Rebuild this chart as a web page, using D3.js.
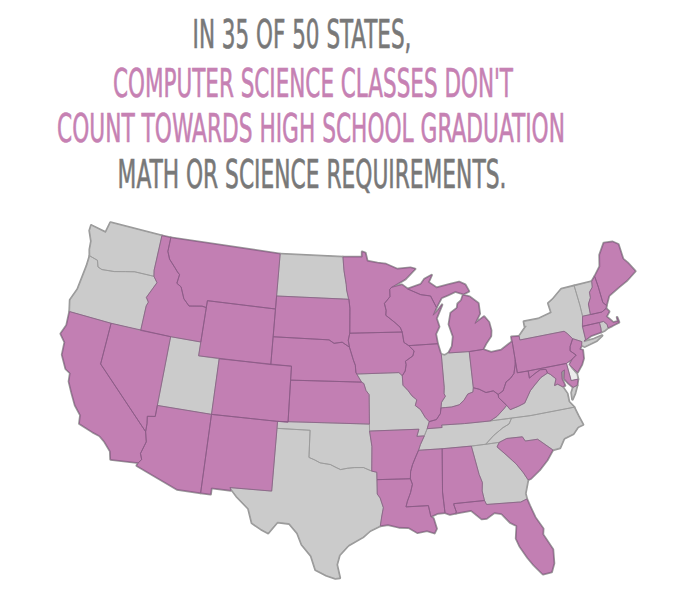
<!DOCTYPE html>
<html>
<head>
<meta charset="utf-8">
<script src="https://cdn.jsdelivr.net/npm/d3@7"></script>
<style>
    body { margin: 0; background: #fff; }
    svg { display: block; }
</style>
</head>
<body>
<svg id="chart" width="697" height="616"></svg>
<script>
// title lines and the colour each one is set in
let titleLines = [
    "IN 35 OF 50 STATES,",
    "COMPUTER SCIENCE CLASSES DON'T",
    "COUNT TOWARDS HIGH SCHOOL GRADUATION",
    "MATH OR SCIENCE REQUIREMENTS.",
];
let titleKinds = ["plain", "accent", "accent", "plain"];

// states where CS does not count (pink); DE drawn lighter
let dontCount = ["CA", "NV", "ID", "MT", "WY", "CO", "AZ", "NM", "SD", "NE", "KS", "MN", "IA", "AR", "LA",
    "WI", "IL", "MI", "OH", "KY", "MS", "AL", "FL", "SC", "WV", "PA", "MD", "NJ", "CT", "MA", "NH", "ME"];
let lightStates = ["DE"];

// rough state outlines, [lon, lat]
const WA = [[[-124.7, 48.4], [-123.0, 48.2], [-122.8, 49.0], [-117.04, 49.0], [-117.04, 46.42], [-116.92, 46.0], [-118.98, 46.0], [-119.9, 45.85], [-121.0, 45.65], [-122.3, 45.55], [-122.76, 45.65], [-123.0, 46.1], [-123.9, 46.25], [-124.1, 46.7], [-124.2, 47.3], [-124.7, 48.0]]];
const OR = [[[-123.9, 46.25], [-123.0, 46.1], [-122.76, 45.65], [-122.3, 45.55], [-121.0, 45.65], [-119.9, 45.85], [-118.98, 46.0], [-116.92, 46.0], [-116.47, 45.6], [-116.78, 45.1], [-117.2, 44.4], [-116.9, 44.1], [-117.03, 43.8], [-117.03, 42.0], [-120.0, 42.0], [-124.21, 42.0], [-124.5, 42.8], [-124.1, 43.7], [-123.9, 45.5]]];
const ID = [[[-117.04, 49.0], [-116.05, 49.0], [-116.05, 47.98], [-115.7, 47.45], [-115.0, 46.95], [-114.6, 46.65], [-114.35, 46.5], [-114.45, 45.85], [-113.95, 45.65], [-113.45, 44.85], [-112.8, 44.4], [-111.5, 44.55], [-111.05, 44.5], [-111.05, 42.0], [-114.04, 42.0], [-117.03, 42.0], [-117.03, 43.8], [-116.9, 44.1], [-117.2, 44.4], [-116.78, 45.1], [-116.47, 45.6], [-116.92, 46.0], [-117.04, 46.42]]];
const MT = [[[-116.05, 49.0], [-104.05, 49.0], [-104.05, 45.0], [-111.05, 45.0], [-111.05, 44.5], [-111.5, 44.55], [-112.8, 44.4], [-113.45, 44.85], [-113.95, 45.65], [-114.45, 45.85], [-114.35, 46.5], [-114.6, 46.65], [-115.0, 46.95], [-115.7, 47.45], [-116.05, 47.98]]];
const WY = [[[-111.05, 45.0], [-104.05, 45.0], [-104.05, 43.0], [-104.05, 41.0], [-111.05, 41.0], [-111.05, 42.0], [-111.05, 44.5]]];
const ND = [[[-104.05, 49.0], [-97.23, 49.0], [-97.1, 48.0], [-96.85, 47.0], [-96.8, 46.6], [-96.6, 46.0], [-96.56, 45.94], [-104.05, 45.94]]];
const SD = [[[-104.05, 45.94], [-96.56, 45.94], [-96.45, 45.3], [-96.45, 43.5], [-96.6, 43.0], [-96.48, 42.5], [-97.2, 42.85], [-98.0, 42.76], [-98.5, 43.0], [-104.05, 43.0], [-104.05, 45.0]]];
const NE = [[[-104.05, 43.0], [-98.5, 43.0], [-98.0, 42.76], [-97.2, 42.85], [-96.48, 42.5], [-96.35, 42.2], [-96.1, 41.6], [-95.9, 41.2], [-95.85, 40.7], [-95.77, 40.58], [-95.31, 40.0], [-102.05, 40.0], [-102.05, 41.0], [-104.05, 41.0]]];
const KS = [[[-102.05, 40.0], [-95.31, 40.0], [-95.1, 39.9], [-94.9, 39.4], [-94.61, 39.1], [-94.62, 37.0], [-103.0, 37.0], [-102.04, 37.0]]];
const OK = [[[-103.0, 37.0], [-94.62, 37.0], [-94.62, 36.5], [-94.43, 35.4], [-94.48, 33.64], [-95.2, 33.9], [-96.0, 33.9], [-96.6, 33.85], [-97.2, 33.75], [-97.6, 33.9], [-98.1, 34.1], [-99.0, 34.2], [-99.5, 34.4], [-100.0, 34.56], [-100.0, 36.5], [-103.0, 36.5]]];
const TX = [[[-103.0, 36.5], [-100.0, 36.5], [-100.0, 34.56], [-99.5, 34.4], [-99.0, 34.2], [-98.1, 34.1], [-97.6, 33.9], [-97.2, 33.75], [-96.6, 33.85], [-96.0, 33.9], [-95.2, 33.9], [-94.48, 33.64], [-94.04, 33.55], [-94.04, 33.02], [-94.04, 31.99], [-93.8, 31.7], [-93.55, 31.0], [-93.7, 30.4], [-93.84, 29.7], [-94.7, 29.35], [-95.3, 28.9], [-96.5, 28.3], [-97.2, 27.6], [-97.4, 26.9], [-97.15, 25.95], [-97.5, 25.9], [-98.2, 26.1], [-99.1, 26.5], [-99.5, 27.5], [-100.3, 28.3], [-100.7, 29.1], [-101.4, 29.75], [-102.4, 29.8], [-103.1, 28.97], [-103.7, 29.2], [-104.5, 29.6], [-104.9, 30.6], [-106.0, 31.4], [-106.63, 31.97], [-103.06, 32.0]]];
const CA = [[[-124.21, 42.0], [-120.0, 42.0], [-120.0, 39.0], [-114.63, 35.0], [-114.6, 34.9], [-114.4, 34.3], [-114.5, 34.0], [-114.7, 33.4], [-114.5, 33.0], [-114.72, 32.72], [-117.12, 32.53], [-117.3, 33.1], [-118.0, 33.7], [-118.5, 34.0], [-119.2, 34.15], [-120.5, 34.5], [-120.6, 35.1], [-121.3, 35.7], [-121.9, 36.5], [-122.4, 37.2], [-122.5, 37.8], [-123.0, 38.0], [-123.7, 38.9], [-123.8, 39.8], [-124.4, 40.3], [-124.1, 41.0]]];
const NV = [[[-120.0, 42.0], [-114.04, 42.0], [-114.05, 37.0], [-114.05, 36.2], [-114.75, 36.1], [-114.65, 35.6], [-114.63, 35.0], [-120.0, 39.0]]];
const UT = [[[-114.04, 42.0], [-111.05, 42.0], [-111.05, 41.0], [-109.05, 41.0], [-109.05, 37.0], [-114.05, 37.0]]];
const AZ = [[[-114.05, 37.0], [-109.05, 37.0], [-109.05, 31.33], [-111.07, 31.33], [-114.81, 32.49], [-114.72, 32.72], [-114.5, 33.0], [-114.7, 33.4], [-114.5, 34.0], [-114.4, 34.3], [-114.6, 34.9], [-114.63, 35.0], [-114.65, 35.6], [-114.75, 36.1], [-114.05, 36.2]]];
const CO = [[[-109.05, 41.0], [-102.05, 41.0], [-102.05, 40.0], [-102.04, 37.0], [-103.0, 37.0], [-109.05, 37.0]]];
const NM = [[[-109.05, 37.0], [-103.0, 37.0], [-103.0, 36.5], [-103.06, 32.0], [-106.63, 31.97], [-106.53, 31.78], [-108.2, 31.78], [-108.2, 31.33], [-109.05, 31.33]]];
const MN = [[[-97.23, 49.0], [-95.15, 49.0], [-95.15, 49.38], [-94.8, 49.3], [-94.6, 48.7], [-93.5, 48.55], [-92.6, 48.45], [-91.4, 48.05], [-90.0, 48.1], [-89.5, 47.99], [-90.6, 47.3], [-92.1, 46.75], [-92.3, 46.6], [-92.3, 46.08], [-92.9, 45.6], [-92.75, 45.1], [-92.8, 44.75], [-92.3, 44.45], [-91.9, 44.2], [-91.4, 43.85], [-91.22, 43.5], [-96.45, 43.5], [-96.45, 45.3], [-96.56, 45.94], [-96.6, 46.0], [-96.8, 46.6], [-96.85, 47.0], [-97.1, 48.0]]];
const IA = [[[-96.45, 43.5], [-91.22, 43.5], [-91.1, 42.75], [-90.64, 42.5], [-90.15, 42.1], [-90.3, 41.75], [-91.05, 41.4], [-91.0, 41.15], [-91.12, 40.7], [-91.42, 40.38], [-91.73, 40.61], [-95.77, 40.58], [-95.85, 40.7], [-95.9, 41.2], [-96.1, 41.6], [-96.35, 42.2], [-96.48, 42.5], [-96.6, 43.0]]];
const MO = [[[-95.77, 40.58], [-91.73, 40.61], [-91.42, 40.38], [-91.4, 39.7], [-90.95, 39.3], [-90.6, 38.9], [-90.18, 38.6], [-90.35, 38.2], [-89.9, 37.9], [-89.5, 37.3], [-89.17, 36.99], [-89.4, 36.5], [-89.7, 36.0], [-90.37, 36.0], [-90.15, 36.5], [-94.62, 36.5], [-94.62, 37.0], [-94.61, 39.1], [-94.9, 39.4], [-95.1, 39.9], [-95.31, 40.0]]];
const AR = [[[-94.62, 36.5], [-90.15, 36.5], [-90.37, 36.0], [-89.7, 36.0], [-90.1, 35.4], [-90.3, 35.0], [-90.55, 34.6], [-90.9, 34.0], [-91.1, 33.5], [-91.15, 33.0], [-94.04, 33.02], [-94.04, 33.55], [-94.48, 33.64], [-94.43, 35.4]]];
const LA = [[[-94.04, 33.02], [-91.15, 33.0], [-91.0, 32.6], [-91.2, 32.0], [-91.5, 31.4], [-91.64, 31.0], [-89.75, 31.0], [-89.6, 30.2], [-89.4, 30.05], [-89.2, 29.3], [-89.4, 29.0], [-90.0, 29.2], [-90.8, 29.1], [-91.5, 29.5], [-92.3, 29.55], [-93.2, 29.77], [-93.84, 29.7], [-93.7, 30.4], [-93.55, 31.0], [-93.8, 31.7], [-94.04, 31.99]]];
const WI = [[[-92.1, 46.75], [-91.0, 46.9], [-90.42, 46.57], [-89.1, 46.1], [-88.1, 45.95], [-87.6, 45.1], [-88.0, 44.55], [-87.5, 44.85], [-87.0, 45.25], [-87.7, 44.3], [-87.5, 43.7], [-87.9, 43.2], [-87.8, 42.49], [-90.64, 42.5], [-91.1, 42.75], [-91.22, 43.5], [-91.4, 43.85], [-91.9, 44.2], [-92.3, 44.45], [-92.8, 44.75], [-92.75, 45.1], [-92.9, 45.6], [-92.3, 46.08], [-92.3, 46.6]]];
const IL = [[[-90.64, 42.5], [-87.8, 42.49], [-87.6, 41.8], [-87.53, 41.7], [-87.53, 39.35], [-87.6, 38.9], [-87.5, 38.7], [-87.9, 38.3], [-88.0, 37.9], [-88.1, 37.5], [-88.5, 37.1], [-89.17, 36.99], [-89.5, 37.3], [-89.9, 37.9], [-90.35, 38.2], [-90.18, 38.6], [-90.6, 38.9], [-90.95, 39.3], [-91.4, 39.7], [-91.42, 40.38], [-91.12, 40.7], [-91.0, 41.15], [-91.05, 41.4], [-90.3, 41.75], [-90.15, 42.1]]];
const MI = [
    [[-90.42, 46.57], [-89.1, 46.1], [-88.1, 45.95], [-87.6, 45.1], [-87.0, 45.75], [-86.3, 45.9], [-85.5, 46.1], [-84.7, 45.85], [-84.1, 46.0], [-84.4, 46.5], [-85.0, 46.75], [-86.1, 46.65], [-87.4, 46.5], [-88.2, 46.95], [-87.8, 47.45], [-88.6, 47.2], [-89.0, 46.85]],
    [[-86.8, 41.76], [-84.8, 41.7], [-83.45, 41.73], [-83.1, 42.1], [-82.5, 42.6], [-82.4, 43.0], [-82.5, 43.6], [-82.9, 44.05], [-83.9, 43.65], [-83.3, 44.3], [-83.3, 45.05], [-84.1, 45.6], [-84.75, 45.78], [-85.0, 45.4], [-85.4, 45.2], [-85.5, 44.9], [-86.2, 44.6], [-86.5, 43.8], [-86.2, 42.9], [-86.4, 42.2]],
];
const IN = [[[-87.53, 41.7], [-87.2, 41.62], [-86.8, 41.76], [-84.8, 41.7], [-84.82, 39.1], [-84.9, 38.8], [-85.4, 38.7], [-85.8, 38.3], [-86.3, 38.0], [-87.0, 37.9], [-87.6, 37.9], [-88.0, 37.9], [-87.9, 38.3], [-87.5, 38.7], [-87.6, 38.9], [-87.53, 39.35]]];
const OH = [[[-84.8, 41.7], [-83.45, 41.73], [-82.7, 41.45], [-81.7, 41.5], [-80.52, 41.98], [-80.52, 40.64], [-80.6, 40.3], [-80.85, 39.7], [-81.25, 39.4], [-81.7, 39.2], [-82.1, 38.6], [-82.6, 38.4], [-83.0, 38.7], [-83.7, 38.65], [-84.3, 38.95], [-84.82, 39.1]]];
const KY = [[[-82.6, 38.4], [-83.0, 38.7], [-83.7, 38.65], [-84.3, 38.95], [-84.82, 39.1], [-84.9, 38.8], [-85.4, 38.7], [-85.8, 38.3], [-86.3, 38.0], [-87.0, 37.9], [-87.6, 37.9], [-88.0, 37.9], [-88.1, 37.5], [-88.5, 37.1], [-89.17, 36.99], [-89.4, 36.5], [-88.05, 36.5], [-88.07, 36.68], [-86.0, 36.63], [-83.67, 36.6], [-83.0, 36.85], [-82.3, 37.3], [-81.97, 37.54], [-82.6, 38.17]]];
const TN = [[[-89.4, 36.5], [-88.05, 36.5], [-88.07, 36.68], [-86.0, 36.63], [-83.67, 36.6], [-81.7, 36.59], [-82.0, 36.2], [-82.6, 36.0], [-83.5, 35.55], [-84.32, 34.99], [-85.6, 34.98], [-88.2, 34.99], [-90.3, 35.0], [-90.1, 35.4], [-89.7, 36.0]]];
const MS = [[[-90.3, 35.0], [-88.2, 34.99], [-88.47, 31.9], [-88.4, 30.4], [-89.0, 30.4], [-89.6, 30.2], [-89.75, 31.0], [-91.64, 31.0], [-91.5, 31.4], [-91.2, 32.0], [-91.0, 32.6], [-91.15, 33.0], [-91.1, 33.5], [-90.9, 34.0], [-90.55, 34.6]]];
const AL = [[[-88.2, 34.99], [-85.6, 34.98], [-85.2, 32.9], [-85.0, 32.3], [-85.1, 31.7], [-85.0, 31.0], [-87.6, 31.0], [-87.6, 30.9], [-87.45, 30.4], [-87.5, 30.3], [-88.0, 30.25], [-88.4, 30.4], [-88.47, 31.9]]];
const GA = [[[-85.6, 34.98], [-84.32, 34.99], [-83.1, 35.0], [-83.35, 34.7], [-82.6, 34.0], [-82.2, 33.6], [-81.9, 33.3], [-81.4, 32.6], [-81.1, 32.05], [-81.5, 31.1], [-81.45, 30.7], [-82.0, 30.55], [-82.2, 30.57], [-84.86, 30.7], [-85.0, 31.0], [-85.1, 31.7], [-85.0, 32.3], [-85.2, 32.9]]];
const FL = [[[-87.6, 31.0], [-85.0, 31.0], [-84.86, 30.7], [-82.2, 30.57], [-82.0, 30.55], [-81.45, 30.7], [-81.3, 30.2], [-81.0, 29.3], [-80.5, 28.4], [-80.6, 28.0], [-80.0, 26.8], [-80.1, 25.8], [-80.4, 25.2], [-81.1, 25.15], [-81.7, 25.9], [-82.1, 26.5], [-82.6, 27.4], [-82.8, 28.0], [-82.6, 28.9], [-83.1, 29.2], [-83.7, 29.9], [-84.3, 30.05], [-85.0, 29.7], [-85.4, 29.7], [-86.2, 30.4], [-87.5, 30.3], [-87.45, 30.4], [-87.6, 30.9]]];
const SC = [[[-83.1, 35.0], [-82.4, 35.2], [-81.0, 35.15], [-80.8, 34.82], [-79.7, 34.8], [-78.55, 33.86], [-79.2, 33.2], [-80.0, 32.6], [-80.85, 32.1], [-81.1, 32.05], [-81.4, 32.6], [-81.9, 33.3], [-82.2, 33.6], [-82.6, 34.0], [-83.35, 34.7]]];
const NC = [[[-75.95, 36.55], [-80.0, 36.55], [-81.7, 36.59], [-82.0, 36.2], [-82.6, 36.0], [-83.5, 35.55], [-84.32, 34.99], [-83.1, 35.0], [-82.4, 35.2], [-81.0, 35.15], [-80.8, 34.82], [-79.7, 34.8], [-78.55, 33.86], [-77.9, 33.9], [-77.4, 34.5], [-76.5, 34.7], [-76.0, 35.1], [-75.5, 35.2], [-75.75, 35.9]]];
const VA = [
    [[-77.72, 39.32], [-77.5, 39.2], [-77.05, 38.8], [-77.3, 38.35], [-77.0, 38.4], [-76.6, 38.15], [-76.3, 37.6], [-76.3, 37.0], [-75.95, 36.55], [-80.0, 36.55], [-81.7, 36.59], [-83.67, 36.6], [-83.0, 36.85], [-82.3, 37.3], [-81.97, 37.54], [-81.7, 37.2], [-80.9, 37.35], [-80.3, 37.5], [-79.6, 38.3], [-79.1, 38.65], [-78.4, 39.1]],
    [[-75.65, 37.95], [-75.25, 38.03], [-75.6, 37.5], [-75.95, 37.12], [-75.9, 37.6]],
];
const WV = [[[-80.52, 40.64], [-80.52, 39.72], [-79.48, 39.72], [-79.48, 39.2], [-78.9, 39.45], [-78.35, 39.65], [-77.8, 39.6], [-77.72, 39.32], [-78.4, 39.1], [-79.1, 38.65], [-79.6, 38.3], [-80.3, 37.5], [-80.9, 37.35], [-81.7, 37.2], [-81.97, 37.54], [-82.6, 38.17], [-82.6, 38.4], [-82.1, 38.6], [-81.7, 39.2], [-81.25, 39.4], [-80.85, 39.7], [-80.6, 40.3]]];
const MD = [[[-79.48, 39.72], [-75.79, 39.72], [-75.7, 38.45], [-75.05, 38.45], [-75.25, 38.03], [-75.65, 37.95], [-76.0, 38.3], [-76.3, 38.7], [-76.1, 39.3], [-76.4, 39.2], [-76.5, 38.7], [-76.35, 38.2], [-76.6, 38.15], [-77.0, 38.4], [-77.3, 38.35], [-77.05, 38.8], [-77.5, 39.2], [-77.72, 39.32], [-77.8, 39.6], [-78.35, 39.65], [-78.9, 39.45], [-79.48, 39.2]]];
const DE = [[[-75.4, 39.85], [-75.55, 39.6], [-75.4, 39.3], [-75.05, 38.8], [-75.05, 38.45], [-75.7, 38.45], [-75.79, 39.72]]];
const PA = [[[-80.52, 41.98], [-80.52, 42.32], [-79.76, 42.27], [-79.76, 42.0], [-75.35, 42.0], [-75.1, 41.8], [-74.7, 41.35], [-75.1, 40.85], [-75.2, 40.55], [-74.72, 40.15], [-75.13, 39.95], [-75.4, 39.85], [-75.79, 39.72], [-79.48, 39.72], [-80.52, 39.72], [-80.52, 40.64]]];
const NJ = [[[-74.7, 41.35], [-73.9, 41.0], [-74.0, 40.75], [-74.25, 40.5], [-74.0, 40.4], [-74.1, 39.8], [-74.4, 39.4], [-74.95, 38.93], [-75.3, 39.3], [-75.55, 39.6], [-75.13, 39.95], [-74.72, 40.15], [-75.2, 40.55], [-75.1, 40.85]]];
const NY = [[[-79.76, 42.0], [-75.35, 42.0], [-75.1, 41.8], [-74.7, 41.35], [-73.9, 41.0], [-74.0, 40.75], [-73.75, 40.6], [-72.5, 40.8], [-71.86, 41.07], [-72.7, 40.98], [-73.7, 40.95], [-73.66, 41.0], [-73.5, 41.1], [-73.5, 42.05], [-73.25, 42.75], [-73.25, 43.55], [-73.35, 45.01], [-74.7, 45.0], [-75.8, 44.4], [-76.3, 44.2], [-76.2, 43.5], [-77.6, 43.25], [-79.05, 43.25], [-79.05, 42.9], [-78.9, 42.9], [-79.76, 42.27]]];
const CT = [[[-73.5, 42.05], [-71.8, 42.02], [-71.8, 41.6], [-71.86, 41.32], [-72.9, 41.25], [-73.66, 41.0], [-73.5, 41.1]]];
const RI = [[[-71.8, 42.02], [-71.38, 42.02], [-71.12, 41.75], [-71.12, 41.5], [-71.5, 41.37], [-71.86, 41.32], [-71.8, 41.6]]];
const MA = [[[-73.25, 42.75], [-72.46, 42.73], [-71.3, 42.7], [-70.82, 42.87], [-70.6, 42.6], [-71.0, 42.3], [-70.65, 41.95], [-70.5, 41.77], [-70.0, 41.75], [-70.0, 42.05], [-69.95, 41.67], [-70.4, 41.6], [-70.7, 41.55], [-71.12, 41.5], [-71.12, 41.75], [-71.38, 42.02], [-71.8, 42.02], [-73.5, 42.05]]];
const VT = [[[-73.35, 45.01], [-71.5, 45.01], [-71.6, 44.6], [-72.0, 44.3], [-72.05, 43.9], [-72.4, 43.5], [-72.46, 42.73], [-73.25, 42.75], [-73.25, 43.55]]];
const NH = [[[-71.5, 45.01], [-71.08, 45.3], [-71.0, 44.5], [-70.97, 43.35], [-70.7, 43.07], [-70.82, 42.87], [-71.3, 42.7], [-72.46, 42.73], [-72.4, 43.5], [-72.05, 43.9], [-72.0, 44.3], [-71.6, 44.6]]];
const ME = [[[-71.08, 45.3], [-70.3, 45.9], [-70.0, 46.7], [-69.23, 47.45], [-68.3, 47.35], [-67.8, 47.06], [-67.78, 45.95], [-67.45, 45.6], [-66.95, 44.85], [-68.0, 44.4], [-69.0, 44.1], [-70.2, 43.7], [-70.7, 43.07], [-70.97, 43.35], [-71.0, 44.5]]];

let stateOutlines = [
    ["WA", WA], ["OR", OR], ["ID", ID], ["MT", MT], ["WY", WY], ["ND", ND], ["SD", SD], ["NE", NE], ["KS", KS],
    ["OK", OK], ["TX", TX], ["CA", CA], ["NV", NV], ["UT", UT], ["AZ", AZ], ["CO", CO], ["NM", NM], ["MN", MN],
    ["IA", IA], ["MO", MO], ["AR", AR], ["LA", LA], ["WI", WI], ["IL", IL], ["MI", MI], ["IN", IN], ["OH", OH],
    ["KY", KY], ["TN", TN], ["MS", MS], ["AL", AL], ["GA", GA], ["FL", FL], ["SC", SC], ["NC", NC], ["VA", VA],
    ["WV", WV], ["MD", MD], ["DE", DE], ["PA", PA], ["NJ", NJ], ["NY", NY], ["CT", CT], ["RI", RI], ["MA", MA],
    ["VT", VT], ["NH", NH], ["ME", ME],
];

let pink = "#c27fb3", pinkEdge = "#8c5a86", grey = "#cbcbcb", greyEdge = "#9a9a9a";

// d3 wants clockwise rings (spherical), so reverse them if needed
function toFeature([code, rings]) {
    let polys = rings.map(ring => {
        let closed = ring.concat([ring[0]]);
        let poly = { type: "Polygon", coordinates: [closed] };
        if (d3.geoArea(poly) > 2 * Math.PI) poly.coordinates = [closed.slice().reverse()];
        return poly.coordinates;
    });
    return { type: "Feature", id: code, geometry: { type: "MultiPolygon", coordinates: polys } };
}
let features = stateOutlines.map(toFeature);
let allStates = { type: "FeatureCollection", features: features };

let svg = d3.select("#chart");

// title: set in a condensed face, then squeezed to the measured line widths
let titleX = [302, 313, 311, 312], titleY = [48, 97, 142, 188], titleW = [219, 400, 508, 389];
let title = svg.append("g")
    .attr("font-family", "'DejaVu Sans Condensed', 'Liberation Sans Narrow', sans-serif")
    .attr("font-size", 39)
    .attr("text-anchor", "middle");
title.selectAll("text")
    .data(titleLines)
    .enter()
    .append("text")
    .attr("x", 0)
    .attr("y", 0)
    .attr("fill", (d, i) => titleKinds[i] == "accent" ? "#c681b3" : "#787878")
    .attr("stroke", (d, i) => titleKinds[i] == "accent" ? "#c681b3" : "#787878")
    .attr("stroke-width", 0.6)
    .text(d => d)
    .attr("transform", function (d, i) {
        let w = this.getComputedTextLength();
        return `translate(${titleX[i]},${titleY[i]}) scale(${titleW[i] / w},1)`;
    });

// fit, grow a little, then recentre on the same box
let box = [[65, 222], [631, 579]];
let projection = d3.geoAlbers()
    .parallels([29.5, 45.5])
    .rotate([96, 0])
    .fitExtent(box, allStates);
projection.scale(projection.scale() * 1.015);
let path = d3.geoPath(projection);
let [[bx0, by0], [bx1, by1]] = path.bounds(allStates);
let [tx, ty] = projection.translate();
projection.translate([
    tx + (box[0][0] + box[1][0]) / 2 - (bx0 + bx1) / 2,
    ty + (box[0][1] + box[1][1]) / 2 - (by0 + by1) / 2,
]);

function fillOf(d) {
    if (dontCount.includes(d.id)) return pink;
    if (lightStates.includes(d.id)) return "#ececec";
    return grey;
}

let map = svg.append("g");

// grey halo underneath gives the coastline its grey rim
map.append("g")
    .selectAll("path")
    .data(features)
    .enter()
    .append("path")
    .attr("d", path)
    .attr("fill", "none")
    .attr("stroke", greyEdge)
    .attr("stroke-width", 2.6)
    .attr("stroke-linejoin", "round");

map.append("g")
    .selectAll("path")
    .data(features)
    .enter()
    .append("path")
    .attr("d", path)
    .attr("fill", fillOf);

// grey borders first so pink edges sit on top
let ordered = features.slice().sort((a, b) => (dontCount.includes(a.id) ? 1 : 0) - (dontCount.includes(b.id) ? 1 : 0));
map.append("g")
    .selectAll("path")
    .data(ordered)
    .enter()
    .append("path")
    .attr("d", path)
    .attr("fill", "none")
    .attr("stroke", d => dontCount.includes(d.id) ? pinkEdge : greyEdge)
    .attr("stroke-width", 0.8)
    .attr("stroke-linejoin", "round");
</script>
</body>
</html>
